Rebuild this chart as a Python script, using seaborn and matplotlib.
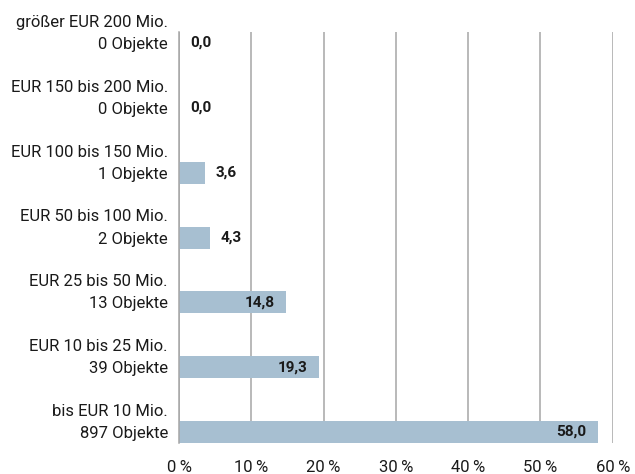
"""
Verteilung der Objekte nach Größenklassen (Anteil in %).
"""

import matplotlib
matplotlib.use("Agg")
import matplotlib.pyplot as plt
import matplotlib.transforms as mtransforms
import pandas as pd
import seaborn as sns

categories = [
    "größer EUR 200 Mio.\n0 Objekte",
    "EUR 150 bis 200 Mio.\n0 Objekte",
    "EUR 100 bis 150 Mio.\n1 Objekte",
    "EUR 50 bis 100 Mio.\n2 Objekte",
    "EUR 25 bis 50 Mio.\n13 Objekte",
    "EUR 10 bis 25 Mio.\n39 Objekte",
    "bis EUR 10 Mio.\n897 Objekte",
]
shares = [0.0, 0.0, 3.6, 4.3, 14.8, 19.3, 58.0]
x_ticks = [0, 10, 20, 30, 40, 50, 60]

BAR_COLOR = "#a7bfd1"
GRID_COLOR = "#a6a6a6"
TEXT_COLOR = "#1a1a1a"

sns.set_style("white")
plt.rcParams["font.family"] = ["Roboto", "DejaVu Sans"]

df = pd.DataFrame({"kategorie": categories, "anteil": shares})

fig = plt.figure(figsize=(6.35, 4.74), dpi=100)
ax = fig.add_axes([0.282, 0.0654, 0.683, 0.867])

sns.barplot(data=df, x="anteil", y="kategorie", orient="h", color=BAR_COLOR,
            saturation=1, width=0.34, linewidth=0, ax=ax)

ax.set_xlim(0, 60)
ax.set_ylim(len(categories) - 1 + 0.17, -0.17)
ax.set_xticks(x_ticks)
ax.set_xticklabels([f"{t}\u2009%" for t in x_ticks], fontsize=12, color=TEXT_COLOR)
ax.xaxis.grid(True, color=GRID_COLOR, linewidth=1.1)
ax.set_axisbelow(True)
ax.tick_params(axis="x", length=0, pad=12)
ax.tick_params(axis="y", length=0, pad=8)
for lbl in ax.get_yticklabels():
    lbl.set_fontsize(12)
    lbl.set_color(TEXT_COLOR)
    lbl.set_linespacing(1.6)
    # second line of each label sits level with the bar
    lbl.set_transform(lbl.get_transform() + mtransforms.ScaledTranslation(0, 10.5 / 72, fig.dpi_scale_trans))
ax.set_xlabel("")
ax.set_ylabel("")
for side in ["top", "right", "bottom"]:
    ax.spines[side].set_visible(False)
ax.spines["left"].set_color(GRID_COLOR)
ax.spines["left"].set_linewidth(1.1)

# value labels: inside the bar if long enough, else to the right
for i, v in enumerate(shares):
    txt = f"{v:.1f}".replace(".", ",")
    if v > 10:
        ax.text(v - 1.6, i, txt, ha="right", va="center", fontsize=11,
                fontweight="bold", color=TEXT_COLOR)
    else:
        ax.text(v + 1.5, i, txt, ha="left", va="center", fontsize=11,
                fontweight="bold", color=TEXT_COLOR)

fig.savefig("out.png", dpi=100)
